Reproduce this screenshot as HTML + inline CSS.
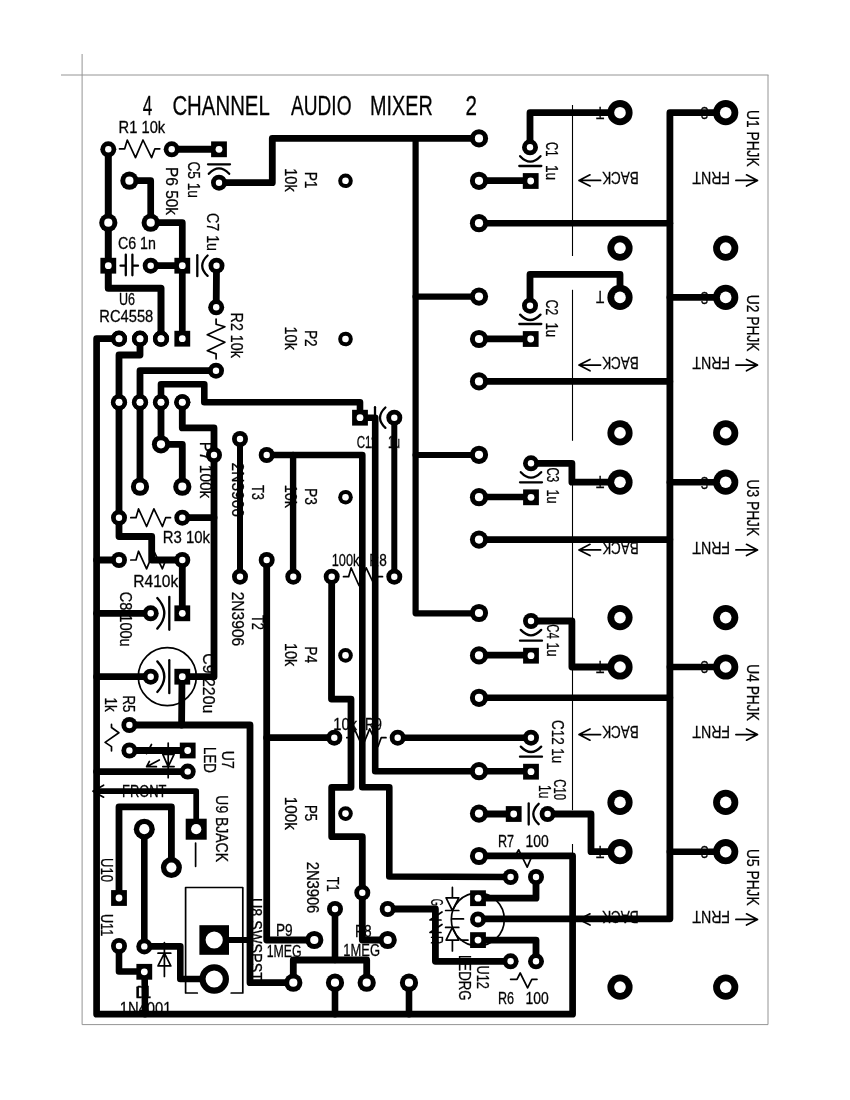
<!DOCTYPE html>
<html lang="en"><head><meta charset="utf-8"><title>4 Channel Audio Mixer 2</title>
<style>html,body{margin:0;padding:0;background:#fff}svg{display:block}text{font-family:"Liberation Sans",sans-serif;fill:#000;stroke:#000;stroke-width:0.3px}.tr{fill:none;stroke:#000;stroke-linejoin:round;stroke-linecap:round}.sk{fill:none;stroke:#000;stroke-width:1.7;stroke-linecap:round;stroke-linejoin:round}.sk2{fill:none;stroke:#000;stroke-width:2.3;stroke-linecap:round;stroke-linejoin:round}.th{fill:none;stroke:#000;stroke-width:1.1}.fr{fill:none;stroke:#949494;stroke-width:1}</style></head><body>
<svg width="850" height="1100" viewBox="0 0 850 1100">
<rect width="850" height="1100" fill="#fff"/>
<g class="fr"><path d="M82.1 54V1024.6H768V75M61 75H768.5"/></g>
<g opacity="0.996"><text x="142.7" y="114.5" font-size="27" textLength="9.5" lengthAdjust="spacingAndGlyphs">4</text><text x="172.4" y="114.5" font-size="27" textLength="97.4" lengthAdjust="spacingAndGlyphs">CHANNEL</text><text x="291" y="114.5" font-size="27" textLength="60.5" lengthAdjust="spacingAndGlyphs">AUDIO</text><text x="370" y="114.5" font-size="27" textLength="62.8" lengthAdjust="spacingAndGlyphs">MIXER</text><text x="465.5" y="114.5" font-size="27" textLength="11.5" lengthAdjust="spacingAndGlyphs">2</text><text x="118.6" y="132.7" font-size="17.3" textLength="46.6" lengthAdjust="spacingAndGlyphs">R1 10k</text><text x="117.9" y="248.8" font-size="17.3" textLength="38" lengthAdjust="spacingAndGlyphs">C6 1n</text><text x="119" y="305.3" font-size="17.3" textLength="16" lengthAdjust="spacingAndGlyphs">U6</text><text x="99.3" y="322" font-size="17.3" textLength="54" lengthAdjust="spacingAndGlyphs">RC4558</text><text x="162.7" y="543.3" font-size="17.3" textLength="47.3" lengthAdjust="spacingAndGlyphs">R3 10k</text><text x="133.3" y="586.7" font-size="17.3" textLength="45" lengthAdjust="spacingAndGlyphs">R410k</text><text x="331.7" y="566" font-size="17.3" textLength="27.8" lengthAdjust="spacingAndGlyphs">100k</text><text x="369.3" y="566" font-size="17.3" textLength="17.4" lengthAdjust="spacingAndGlyphs">R8</text><text x="333.3" y="730" font-size="17.3" textLength="23.7" lengthAdjust="spacingAndGlyphs">10k</text><text x="365" y="730" font-size="17.3" textLength="17" lengthAdjust="spacingAndGlyphs">R9</text><text x="122" y="796.6" font-size="17.3" textLength="44.5" lengthAdjust="spacingAndGlyphs">FRONT</text><text x="276" y="936.3" font-size="17.3" textLength="16.7" lengthAdjust="spacingAndGlyphs">P9</text><text x="266.7" y="957.3" font-size="17.3" textLength="35" lengthAdjust="spacingAndGlyphs">1MEG</text><text x="355" y="937.3" font-size="17.3" textLength="16.7" lengthAdjust="spacingAndGlyphs">P8</text><text x="343.3" y="955.7" font-size="17.3" textLength="36.7" lengthAdjust="spacingAndGlyphs">1MEG</text><text x="497.9" y="846.5" font-size="17.3" textLength="16.1" lengthAdjust="spacingAndGlyphs">R7</text><text x="525.5" y="846.5" font-size="17.3" textLength="23.2" lengthAdjust="spacingAndGlyphs">100</text><text x="497.9" y="1003.9" font-size="17.3" textLength="16.1" lengthAdjust="spacingAndGlyphs">R6</text><text x="525.5" y="1003.9" font-size="17.3" textLength="23.2" lengthAdjust="spacingAndGlyphs">100</text><text x="137" y="997.6" font-size="17.3" textLength="14" lengthAdjust="spacingAndGlyphs">D1</text><text x="119.7" y="1013.5" font-size="17.3" textLength="51.9" lengthAdjust="spacingAndGlyphs">1N4001</text><text x="356.7" y="448.3" font-size="17.3" textLength="20.3" lengthAdjust="spacingAndGlyphs">C11</text><text x="388" y="448.3" font-size="17.3" textLength="12" lengthAdjust="spacingAndGlyphs">1u</text><text transform="translate(166 167) rotate(90)" font-size="17.3" textLength="48" lengthAdjust="spacingAndGlyphs">P6 50k</text><text transform="translate(188.3 161.4) rotate(90)" font-size="17.3" textLength="36.6" lengthAdjust="spacingAndGlyphs">C5 1u</text><text transform="translate(207 213) rotate(90)" font-size="17.3" textLength="38" lengthAdjust="spacingAndGlyphs">C7 1u</text><text transform="translate(231.2 312.6) rotate(90)" font-size="17.3" textLength="45.2" lengthAdjust="spacingAndGlyphs">R2 10k</text><text transform="translate(305.3 171.7) rotate(90)" font-size="17.3" textLength="16.8" lengthAdjust="spacingAndGlyphs">P1</text><text transform="translate(285.3 168.3) rotate(90)" font-size="17.3" textLength="23.4" lengthAdjust="spacingAndGlyphs">10k</text><text transform="translate(305.3 329.9) rotate(90)" font-size="17.3" textLength="16.8" lengthAdjust="spacingAndGlyphs">P2</text><text transform="translate(285.3 326.5) rotate(90)" font-size="17.3" textLength="23.4" lengthAdjust="spacingAndGlyphs">10k</text><text transform="translate(305.3 488.1) rotate(90)" font-size="17.3" textLength="16.8" lengthAdjust="spacingAndGlyphs">P3</text><text transform="translate(285.3 484.7) rotate(90)" font-size="17.3" textLength="23.4" lengthAdjust="spacingAndGlyphs">10k</text><text transform="translate(305.3 646.3) rotate(90)" font-size="17.3" textLength="16.8" lengthAdjust="spacingAndGlyphs">P4</text><text transform="translate(285.3 642.9) rotate(90)" font-size="17.3" textLength="23.4" lengthAdjust="spacingAndGlyphs">10k</text><text transform="translate(305.3 805) rotate(90)" font-size="17.3" textLength="16" lengthAdjust="spacingAndGlyphs">P5</text><text transform="translate(285.3 796.7) rotate(90)" font-size="17.3" textLength="33.3" lengthAdjust="spacingAndGlyphs">100k</text><text transform="translate(200.3 441.7) rotate(90)" font-size="17.3" textLength="56.6" lengthAdjust="spacingAndGlyphs">P7 100k</text><text transform="translate(232 462.5) rotate(90)" font-size="17.3" textLength="54.5" lengthAdjust="spacingAndGlyphs">2N3906</text><text transform="translate(252 485) rotate(90)" font-size="17.3" textLength="15" lengthAdjust="spacingAndGlyphs">T3</text><text transform="translate(232 591.7) rotate(90)" font-size="17.3" textLength="54.5" lengthAdjust="spacingAndGlyphs">2N3906</text><text transform="translate(252 615) rotate(90)" font-size="17.3" textLength="15" lengthAdjust="spacingAndGlyphs">T2</text><text transform="translate(307 861.7) rotate(90)" font-size="17.3" textLength="51.6" lengthAdjust="spacingAndGlyphs">2N3906</text><text transform="translate(327 876.7) rotate(90)" font-size="17.3" textLength="15" lengthAdjust="spacingAndGlyphs">T1</text><text transform="translate(120.3 591.7) rotate(90)" font-size="17.3" textLength="55" lengthAdjust="spacingAndGlyphs">C8 100u</text><text transform="translate(202.8 653.3) rotate(90)" font-size="17.3" textLength="60" lengthAdjust="spacingAndGlyphs">C9 220u</text><text transform="translate(122.9 695.5) rotate(90)" font-size="17.3" textLength="16.8" lengthAdjust="spacingAndGlyphs">R5</text><text transform="translate(104.9 697.5) rotate(90)" font-size="17.3" textLength="14.1" lengthAdjust="spacingAndGlyphs">1k</text><text transform="translate(222 750.8) rotate(90)" font-size="17.3" textLength="18" lengthAdjust="spacingAndGlyphs">U7</text><text transform="translate(203.8 747) rotate(90)" font-size="17.3" textLength="26" lengthAdjust="spacingAndGlyphs">LED</text><text transform="translate(215.6 795.3) rotate(90)" font-size="17.3" textLength="66.7" lengthAdjust="spacingAndGlyphs">U9 BJACK</text><text transform="translate(100.8 858) rotate(90)" font-size="17.3" textLength="24.2" lengthAdjust="spacingAndGlyphs">U10</text><text transform="translate(100.8 914) rotate(90)" font-size="17.3" textLength="22.2" lengthAdjust="spacingAndGlyphs">U11</text><text transform="translate(249.5 898) rotate(90)" font-size="17.3" textLength="83" lengthAdjust="spacingAndGlyphs">U8 SWSPST</text><text transform="translate(477 965.6) rotate(90)" font-size="17.3" textLength="23.3" lengthAdjust="spacingAndGlyphs">U12</text><text transform="translate(430.5 898.7) rotate(90)" font-size="17.3" textLength="7.1" lengthAdjust="spacingAndGlyphs">G</text><text transform="translate(430.5 936) rotate(90)" font-size="17.3" textLength="8" lengthAdjust="spacingAndGlyphs">R</text><text transform="translate(459 955) rotate(90)" font-size="17.3" textLength="45.5" lengthAdjust="spacingAndGlyphs">LEDRG</text><text transform="translate(546 142) rotate(90)" font-size="17.3" textLength="14.4" lengthAdjust="spacingAndGlyphs">C1</text><text transform="translate(546 165) rotate(90)" font-size="17.3" textLength="15.2" lengthAdjust="spacingAndGlyphs">1u</text><text transform="translate(546.2 299.8) rotate(90)" font-size="17.3" textLength="15.5" lengthAdjust="spacingAndGlyphs">C2</text><text transform="translate(546.2 322.4) rotate(90)" font-size="17.3" textLength="14.8" lengthAdjust="spacingAndGlyphs">1u</text><text transform="translate(546.5 467.5) rotate(90)" font-size="17.3" textLength="14.7" lengthAdjust="spacingAndGlyphs">C3</text><text transform="translate(546.5 489.4) rotate(90)" font-size="17.3" textLength="14.2" lengthAdjust="spacingAndGlyphs">1u</text><text transform="translate(546.5 624.3) rotate(90)" font-size="17.3" textLength="14.3" lengthAdjust="spacingAndGlyphs">C4</text><text transform="translate(546.5 642.4) rotate(90)" font-size="17.3" textLength="14.1" lengthAdjust="spacingAndGlyphs">1u</text><text transform="translate(552 720) rotate(90)" font-size="17.3" textLength="43.3" lengthAdjust="spacingAndGlyphs">C12 1u</text><text transform="translate(554.3 779.3) rotate(90)" font-size="17.3" textLength="20.7" lengthAdjust="spacingAndGlyphs">C10</text><text transform="translate(538.5 785) rotate(90)" font-size="17.3" textLength="13.3" lengthAdjust="spacingAndGlyphs">1u</text><text transform="translate(747 110) rotate(90)" font-size="17.3" textLength="56.7" lengthAdjust="spacingAndGlyphs">U1 PHJK</text><text transform="translate(604.2 106.5) rotate(180)" font-size="16.5" textLength="8.2" lengthAdjust="spacingAndGlyphs">T</text><text transform="translate(708.5 107) rotate(180)" font-size="16.5" textLength="8" lengthAdjust="spacingAndGlyphs">S</text><text transform="translate(638.8 172) rotate(180)" font-size="17.3" textLength="36.6" lengthAdjust="spacingAndGlyphs">BACK</text><text transform="translate(730 172) rotate(180)" font-size="17.3" textLength="37.6" lengthAdjust="spacingAndGlyphs">FRNT</text><text transform="translate(747 294.8) rotate(90)" font-size="17.3" textLength="56.7" lengthAdjust="spacingAndGlyphs">U2 PHJK</text><text transform="translate(604.2 291.2) rotate(180)" font-size="16.5" textLength="8.2" lengthAdjust="spacingAndGlyphs">T</text><text transform="translate(708.5 291.8) rotate(180)" font-size="16.5" textLength="8" lengthAdjust="spacingAndGlyphs">S</text><text transform="translate(638.8 356.8) rotate(180)" font-size="17.3" textLength="36.6" lengthAdjust="spacingAndGlyphs">BACK</text><text transform="translate(730 356.8) rotate(180)" font-size="17.3" textLength="37.6" lengthAdjust="spacingAndGlyphs">FRNT</text><text transform="translate(747 479.5) rotate(90)" font-size="17.3" textLength="56.7" lengthAdjust="spacingAndGlyphs">U3 PHJK</text><text transform="translate(604.2 476) rotate(180)" font-size="16.5" textLength="8.2" lengthAdjust="spacingAndGlyphs">T</text><text transform="translate(708.5 476.5) rotate(180)" font-size="16.5" textLength="8" lengthAdjust="spacingAndGlyphs">S</text><text transform="translate(638.8 541.5) rotate(180)" font-size="17.3" textLength="36.6" lengthAdjust="spacingAndGlyphs">BACK</text><text transform="translate(730 541.5) rotate(180)" font-size="17.3" textLength="37.6" lengthAdjust="spacingAndGlyphs">FRNT</text><text transform="translate(747 664.2) rotate(90)" font-size="17.3" textLength="56.7" lengthAdjust="spacingAndGlyphs">U4 PHJK</text><text transform="translate(604.2 660.8) rotate(180)" font-size="16.5" textLength="8.2" lengthAdjust="spacingAndGlyphs">T</text><text transform="translate(708.5 661.2) rotate(180)" font-size="16.5" textLength="8" lengthAdjust="spacingAndGlyphs">S</text><text transform="translate(638.8 726.2) rotate(180)" font-size="17.3" textLength="36.6" lengthAdjust="spacingAndGlyphs">BACK</text><text transform="translate(730 726.2) rotate(180)" font-size="17.3" textLength="37.6" lengthAdjust="spacingAndGlyphs">FRNT</text><text transform="translate(747 849) rotate(90)" font-size="17.3" textLength="56.7" lengthAdjust="spacingAndGlyphs">U5 PHJK</text><text transform="translate(604.2 845.5) rotate(180)" font-size="16.5" textLength="8.2" lengthAdjust="spacingAndGlyphs">T</text><text transform="translate(708.5 846) rotate(180)" font-size="16.5" textLength="8" lengthAdjust="spacingAndGlyphs">S</text><text transform="translate(638.8 911) rotate(180)" font-size="17.3" textLength="36.6" lengthAdjust="spacingAndGlyphs">BACK</text><text transform="translate(730 911) rotate(180)" font-size="17.3" textLength="37.6" lengthAdjust="spacingAndGlyphs">FRNT</text></g>
<g><path class="sk" d="M600.6 180.4 H579 M590 174.8 L579 180.4 L590 186"/><path class="sk" d="M735.9 180.4 H757.5 M746.5 174.8 L757.5 180.4 L746.5 186"/><path class="sk" d="M600.6 365.1 H579 M590 359.5 L579 365.1 L590 370.8"/><path class="sk" d="M735.9 365.1 H757.5 M746.5 359.5 L757.5 365.1 L746.5 370.8"/><path class="sk" d="M600.6 549.9 H579 M590 544.3 L579 549.9 L590 555.5"/><path class="sk" d="M735.9 549.9 H757.5 M746.5 544.3 L757.5 549.9 L746.5 555.5"/><path class="sk" d="M600.6 734.6 H579 M590 729 L579 734.6 L590 740.2"/><path class="sk" d="M735.9 734.6 H757.5 M746.5 729 L757.5 734.6 L746.5 740.2"/><path class="sk" d="M600.6 919.4 H579 M590 913.8 L579 919.4 L590 925"/><path class="sk" d="M735.9 919.4 H757.5 M746.5 913.8 L757.5 919.4 L746.5 925"/><path class="th" d="M572.5 105 V256"/><path class="th" d="M572.5 289.8 V440.8"/><path class="th" d="M572.5 474.5 V625.5"/><path class="th" d="M572.5 659.2 V810.2"/><path class="th" d="M572.5 844 V995"/><path class="sk" d="M119.5 148.8 L124.7 148.8 L127.3 140 L135.5 157.6 L143 140 L151.6 157.6 L154.9 148.8 L159.8 148.8"/><path class="sk" d="M130.8 517.7 L136 517.7 L138.5 508.9 L146.6 526.5 L153.9 508.9 L162.4 526.5 L165.7 517.7 L170.5 517.7"/><path class="sk" d="M130.8 560 L136 560 L138.5 551.2 L146.6 568.8 L153.9 551.2 L162.4 568.8 L165.7 560 L170.5 560"/><path class="sk" d="M343.5 576.7 L348.6 576.7 L351.1 567.9 L359 585.5 L366.2 567.9 L374.6 585.5 L377.7 576.7 L382.5 576.7"/><path class="sk" d="M346.8 737.7 L351.9 737.7 L354.4 728.9 L362.4 746.5 L369.7 728.9 L378 746.5 L381.2 737.7 L386 737.7"/><path class="sk" d="M216.1 319 L216.1 324.2 L224.9 326.7 L207.3 334.8 L224.9 342.2 L207.3 350.7 L216.1 353.9 L216.1 358.8"/><path class="sk" d="M111.5 724.4 V727.5 L118.9 732.8 L105.1 742.4 L111.5 746.6 V750.8"/><path class="sk" d="M510.6 979.3 H517 L520.2 973 L527.6 987.8 L531.8 979.3 H537"/><path class="sk" d="M514.5 857 L518.7 849.8 L527.2 867.2 L532 856"/><path class="sk2" d="M208 164.3 H230"/><path class="sk2" d="M208.8 173.8 Q219 163 229.2 173.8"/><path class="sk2" d="M519.3 166 H541.3"/><path class="sk2" d="M520.1 156.2 Q530.3 167 540.5 156.2"/><path class="sk2" d="M519.3 324 H541.3"/><path class="sk2" d="M520.1 314.6 Q530.3 325.4 540.5 314.6"/><path class="sk2" d="M520 482.3 H542"/><path class="sk2" d="M520.8 472.2 Q531 483 541.2 472.2"/><path class="sk2" d="M520 640.7 H542"/><path class="sk2" d="M520.8 629.9 Q531 640.7 541.2 629.9"/><path class="sk2" d="M520 756.7 H542"/><path class="sk2" d="M520.8 746.6 Q531 757.4 541.2 746.6"/><path class="sk2" d="M197.3 255.2 V276.2"/><path class="sk2" d="M207.6 255.5 Q196.8 265.7 207.6 275.9"/><path class="sk2" d="M528.7 803.5 V824.5"/><path class="sk2" d="M538.7 803.8 Q527.9 814 538.7 824.2"/><path class="sk2" d="M375 407.2 V428.2"/><path class="sk2" d="M385.4 407.5 Q374.6 417.7 385.4 427.9"/><path class="sk2" d="M169.3 596.8 V629.8"/><path class="sk2" d="M157.3 598 Q171.3 613.3 157.3 628.6"/><path class="sk2" d="M169.3 660.2 V693.2"/><path class="sk2" d="M157.3 661.4 Q171.3 676.7 157.3 692"/><circle class="sk" cx="167.3" cy="676.7" r="29"/><path class="sk2" d="M120.5 265.7 H125.8 M132.4 265.7 H138 M125.8 254.6 V275.3 M132.4 254.6 V275.3"/><path class="sk" d="M168.2 743 V777.7 M162.8 754.4 H174.1 L168.2 766.6 Z M162.8 766.6 H174.1"/><path class="sk" d="M151.5 744.5 L146.6 753.7 M159.3 760 L146.6 766.7 H156.4 M146.6 766.7 L149.4 761.4"/><path class="sk" d="M93 791.2 L103.6 785.2 M93 791.2 L103.6 797.2"/><path class="sk" d="M195.6 843 V866.3"/><path class="sk" d="M197.3 993 H185.6 V887.5 H242.8 V993 H231.2"/><path class="sk" d="M164.4 942.6 V976.5 M158 953.2 H170.8 M164.4 953.2 L158 965.9 H170.8 Z"/><path class="sk" d="M137.2 987.2 V997.4"/><circle class="sk" cx="477.8" cy="919.4" r="26.5"/><path class="sk" d="M461 940.1 H468"/><path class="sk" d="M452.4 887.4 V897.8 M446.1 897.8 H458.8 L452.4 910.5 Z M445.6 910.5 H458.8 M452.6 918.9 H463.5 M445.6 927.4 H458.8"/><path class="sk" d="M452.4 951 V940.1 M446.1 940.1 H458.8 L452.4 927.4 Z"/><path class="sk" d="M442 912 L430 920 L441 920 M442 924.5 L430 932.5 L441 932.5"/></g>
<g class="tr"><path d="M108.3 149.3 L108.3 288.3 L161 288.3 L161 338.7" stroke-width="7"/><path d="M171.7 149.3 L219 149.3" stroke-width="7"/><path d="M219 182.7 L272.3 182.7 L272.3 138.4 L479 138.4" stroke-width="6.8"/><path d="M415.6 138.4 L415.6 613.3 L479 613.3" stroke-width="6.2"/><path d="M415.6 296.7 L479 296.7" stroke-width="6.2"/><path d="M415.6 455 L479 455" stroke-width="6.2"/><path d="M129.4 180.7 L150.7 180.7 L150.7 222.7 L182.3 222.7 L182.3 338.7" stroke-width="6.7"/><path d="M150.7 265.7 L182.3 265.7" stroke-width="6.7"/><path d="M216.5 265.7 L216.2 307.3" stroke-width="6.8"/><path d="M119 338.7 L96.6 338.7 L96.6 1014.2 L572.6 1014.2 L572.6 855.8 L479 855.8" stroke-width="6.7"/><path d="M140 338.7 L140 355 L119 355 L119 536.5 L151.7 536.5 L151.7 560 L182.3 560 L182.3 613.3" stroke-width="6.8"/><path d="M216 370.7 L140 370.7 L140 486.7" stroke-width="6.8"/><path d="M161 402.3 L161 384.2 L204.3 384.2 L204.3 402.3 L360 402.3 L360 417.7 L375.2 417.7 L375.2 771.3 L531 771.3" stroke-width="6.6"/><path d="M161 402.3 L161 444.3 L182.3 444.3 L182.3 486.7" stroke-width="6.8"/><path d="M182.3 402.3 L182.3 427.9 L214 427.9 L214 676.7 L182 676.7 L181.6 725" stroke-width="6.8"/><path d="M182.3 517.7 L214 517.7" stroke-width="6.8"/><path d="M96.6 560 L119 560" stroke-width="6.8"/><path d="M96.6 613.3 L150.7 613.3" stroke-width="6.8"/><path d="M96.6 676.7 L150.7 676.7" stroke-width="6.8"/><path d="M129.4 725 L250 725 L250 982.7 L293.3 982.7 L293.3 960 L366.7 960 L366.7 982.7" stroke-width="6.8"/><path d="M129.4 750.5 L187.7 750.5" stroke-width="6.8"/><path d="M96.6 771.6 L187.7 771.6" stroke-width="6.8"/><path d="M96.6 791.2 L196.2 791.2 L196.2 829.2" stroke-width="5.7"/><path d="M119 898 L119 806.8 L171.4 806.8 L171.4 867.6" stroke-width="6.8"/><path d="M144.3 829.2 L144.3 946.4 L180.3 946.4 L180.3 979 L214.2 979" stroke-width="6.6"/><path d="M119 946 L119 971.5 L144.6 971.5 L145 1014.2" stroke-width="6.6"/><path d="M214.2 940 L250 940" stroke-width="5.8"/><path d="M266.7 560 L266.7 940 L314.3 940" stroke-width="6.8"/><path d="M266.7 737.7 L334.3 737.7" stroke-width="6.8"/><path d="M240 439 L240 576.7" stroke-width="6"/><path d="M266.7 455 L362.3 455 L362.3 787.3 L389.3 787.3 L389.3 876.5 L510.6 877" stroke-width="6.6"/><path d="M293.1 455 L293.1 576.7" stroke-width="6.4"/><path d="M331.7 576.7 L331.5 699.1 L351 699.1 L351 787.3 L331.7 787.3 L331.7 836.7 L362.3 836.7 L362.3 940 L387.7 940" stroke-width="6.8"/><path d="M394.3 417.7 L394.3 576.7" stroke-width="6"/><path d="M397.7 737.7 L531 737.7" stroke-width="6.6"/><path d="M479 180.6 L531 180.6" stroke-width="6.7"/><path d="M479 223.2 L669.9 223.2" stroke-width="6.6"/><path d="M479 338.8 L531 338.8" stroke-width="6.7"/><path d="M479 381.4 L669.9 381.4" stroke-width="6.6"/><path d="M479 497 L531 497" stroke-width="6.7"/><path d="M479 539.6 L669.9 539.6" stroke-width="6.6"/><path d="M479 655.2 L531 655.2" stroke-width="6.7"/><path d="M479 697.8 L669.9 697.8" stroke-width="6.6"/><path d="M479 814 L513.7 814" stroke-width="7.2"/><path d="M530 147.3 L530 112.7 L620 112.7" stroke-width="6.8"/><path d="M530 305.7 L530 274.4 L620 274.4 L620 297.4" stroke-width="6.8"/><path d="M531 463.3 L571.9 463.3 L571.9 482.2 L620 482.2" stroke-width="6.8"/><path d="M531 621 L571.9 621 L571.9 667 L620 667" stroke-width="6.8"/><path d="M547.6 814 L591 814 L591 851.7 L620 851.7" stroke-width="6.8"/><path d="M725.7 112.7 L669.9 112.7 L669.9 918.8 L478 918.8" stroke-width="6.8"/><path d="M669.9 297.4 L725.7 297.4" stroke-width="6.6"/><path d="M669.9 482.2 L725.7 482.2" stroke-width="6.6"/><path d="M669.9 667 L725.7 667" stroke-width="6.6"/><path d="M669.9 851.7 L725.7 851.7" stroke-width="6.6"/><path d="M335 909 L335 960" stroke-width="6.6"/><path d="M335 982.7 L335 1014.2" stroke-width="6.6"/><path d="M409 982.7 L409 1014.2" stroke-width="6.6"/><path d="M387.7 909 L435.4 909 L435.4 961.3 L510.6 961.3" stroke-width="6.8"/><path d="M536 877 L536 898.2 L478 898.2" stroke-width="6.8"/><path d="M478 940.1 L536 940.1 L536 961.3" stroke-width="6.8"/></g>
<g fill="#000"><rect x="211.1" y="141.4" width="15.8" height="15.8"/><rect x="100.4" y="257.8" width="15.8" height="15.8"/><rect x="174.4" y="257.8" width="15.8" height="15.8"/><rect x="174.4" y="330.8" width="15.8" height="15.8"/><rect x="352.1" y="409.8" width="15.8" height="15.8"/><rect x="174.4" y="605.4" width="15.8" height="15.8"/><rect x="174.4" y="668.8" width="15.8" height="15.8"/><rect x="179.8" y="742.6" width="15.8" height="15.8"/><rect x="522.8" y="173.1" width="15.8" height="15.8"/><rect x="522.8" y="331.1" width="15.8" height="15.8"/><rect x="523.1" y="489.4" width="15.8" height="15.8"/><rect x="523.1" y="647.8" width="15.8" height="15.8"/><rect x="523.1" y="763.8" width="15.8" height="15.8"/><rect x="505.8" y="806.1" width="15.8" height="15.8"/><rect x="470.1" y="890.3" width="15.8" height="15.8"/><rect x="470.1" y="932.2" width="15.8" height="15.8"/><rect x="111.1" y="890.1" width="15.8" height="15.8"/><rect x="136.4" y="963.9" width="15.8" height="15.8"/><rect x="185.7" y="818.7" width="21" height="21"/><rect x="199.4" y="925.2" width="29.6" height="29.6"/><circle cx="108.3" cy="149.3" r="8"/><circle cx="171.7" cy="149.3" r="8"/><circle cx="219" cy="182.7" r="8"/><circle cx="150.7" cy="265.7" r="8"/><circle cx="216.5" cy="265.7" r="8"/><circle cx="216.2" cy="307.3" r="8"/><circle cx="216" cy="370.7" r="8"/><circle cx="119" cy="338.7" r="8"/><circle cx="140" cy="338.7" r="8"/><circle cx="161" cy="338.7" r="8"/><circle cx="119" cy="402.3" r="8"/><circle cx="140" cy="402.3" r="8"/><circle cx="161" cy="402.3" r="8"/><circle cx="182.3" cy="402.3" r="8"/><circle cx="214" cy="455" r="8"/><circle cx="240" cy="439" r="8"/><circle cx="240" cy="576.7" r="8"/><circle cx="266.7" cy="455" r="8"/><circle cx="266.7" cy="560" r="8"/><circle cx="293.3" cy="576.7" r="8"/><circle cx="331.7" cy="576.7" r="8"/><circle cx="394.3" cy="576.7" r="8"/><circle cx="119" cy="517.7" r="8"/><circle cx="182.3" cy="517.7" r="8"/><circle cx="119" cy="560" r="8"/><circle cx="182.3" cy="560" r="8"/><circle cx="150.7" cy="613.3" r="8"/><circle cx="150.7" cy="676.7" r="8"/><circle cx="129.4" cy="725" r="8"/><circle cx="129.4" cy="750.5" r="8"/><circle cx="187.7" cy="771.6" r="8"/><circle cx="394.3" cy="417.7" r="8"/><circle cx="530" cy="147.3" r="8"/><circle cx="530" cy="305.7" r="8"/><circle cx="531" cy="463.3" r="8"/><circle cx="531" cy="621" r="8"/><circle cx="547.6" cy="814" r="8"/><circle cx="531" cy="737.7" r="8"/><circle cx="334.3" cy="737.7" r="8"/><circle cx="397.7" cy="737.7" r="8"/><circle cx="335" cy="909" r="8"/><circle cx="362.3" cy="892.7" r="8"/><circle cx="387.7" cy="909" r="8"/><circle cx="119" cy="946" r="8"/><circle cx="144.3" cy="946.4" r="8"/><circle cx="510.6" cy="877" r="8"/><circle cx="536" cy="877" r="8"/><circle cx="510.6" cy="961.3" r="8"/><circle cx="536" cy="961.3" r="8"/><circle cx="478" cy="919.4" r="8"/><circle cx="119" cy="338.7" r="8.1"/><circle cx="140" cy="338.7" r="8.1"/><circle cx="161" cy="338.7" r="8.1"/><circle cx="119" cy="402.3" r="8.1"/><circle cx="140" cy="402.3" r="8.1"/><circle cx="161" cy="402.3" r="8.1"/><circle cx="182.3" cy="402.3" r="8.1"/><circle cx="129.4" cy="180.7" r="9.1"/><circle cx="150.7" cy="222.7" r="9.1"/><circle cx="108.3" cy="222.7" r="9.1"/><circle cx="140" cy="486.7" r="9.1"/><circle cx="182.3" cy="486.7" r="9.1"/><circle cx="161" cy="444.3" r="9.1"/><circle cx="293.3" cy="982.7" r="9.1"/><circle cx="335" cy="982.7" r="9.1"/><circle cx="366.7" cy="982.7" r="9.1"/><circle cx="409" cy="982.7" r="9.1"/><circle cx="314.3" cy="940" r="9.1"/><circle cx="387.7" cy="940" r="9.1"/><circle cx="479" cy="138.4" r="9.1"/><circle cx="479" cy="180.8" r="9.1"/><circle cx="479" cy="223.2" r="9.1"/><circle cx="345.5" cy="180.8" r="7.3"/><circle cx="479" cy="296.6" r="9.1"/><circle cx="479" cy="339" r="9.1"/><circle cx="479" cy="381.4" r="9.1"/><circle cx="345.5" cy="339" r="7.3"/><circle cx="479" cy="454.8" r="9.1"/><circle cx="479" cy="497.2" r="9.1"/><circle cx="479" cy="539.6" r="9.1"/><circle cx="345.5" cy="497.2" r="7.3"/><circle cx="479" cy="613" r="9.1"/><circle cx="479" cy="655.4" r="9.1"/><circle cx="479" cy="697.8" r="9.1"/><circle cx="345.5" cy="655.4" r="7.3"/><circle cx="479" cy="771.2" r="9.1"/><circle cx="479" cy="813.6" r="9.1"/><circle cx="479" cy="856" r="9.1"/><circle cx="345.5" cy="813.6" r="7.3"/><circle cx="620" cy="112.7" r="12.6"/><circle cx="620" cy="248.1" r="12.6"/><circle cx="725.7" cy="112.7" r="12.6"/><circle cx="725.7" cy="248.1" r="12.6"/><circle cx="620" cy="297.4" r="12.6"/><circle cx="620" cy="432.9" r="12.6"/><circle cx="725.7" cy="297.4" r="12.6"/><circle cx="725.7" cy="432.9" r="12.6"/><circle cx="620" cy="482.2" r="12.6"/><circle cx="620" cy="617.6" r="12.6"/><circle cx="725.7" cy="482.2" r="12.6"/><circle cx="725.7" cy="617.6" r="12.6"/><circle cx="620" cy="667" r="12.6"/><circle cx="620" cy="802.4" r="12.6"/><circle cx="725.7" cy="667" r="12.6"/><circle cx="725.7" cy="802.4" r="12.6"/><circle cx="620" cy="851.7" r="12.6"/><circle cx="620" cy="987.1" r="12.6"/><circle cx="725.7" cy="851.7" r="12.6"/><circle cx="725.7" cy="987.1" r="12.6"/><circle cx="144.3" cy="829.2" r="10.5"/><circle cx="171.4" cy="867.6" r="10.5"/><circle cx="214.2" cy="979" r="14.8"/></g>
<g fill="#fff"><circle cx="219" cy="149.3" r="3.4"/><circle cx="108.3" cy="265.7" r="3.4"/><circle cx="182.3" cy="265.7" r="3.4"/><circle cx="182.3" cy="338.7" r="3.4"/><circle cx="360" cy="417.7" r="3.4"/><circle cx="182.3" cy="613.3" r="3.4"/><circle cx="182.3" cy="676.7" r="3.4"/><circle cx="187.7" cy="750.5" r="3.4"/><circle cx="530.7" cy="181" r="3.4"/><circle cx="530.7" cy="339" r="3.4"/><circle cx="531" cy="497.3" r="3.4"/><circle cx="531" cy="655.7" r="3.4"/><circle cx="531" cy="771.7" r="3.4"/><circle cx="513.7" cy="814" r="3.4"/><circle cx="478" cy="898.2" r="3.4"/><circle cx="478" cy="940.1" r="3.4"/><circle cx="119" cy="898" r="3.4"/><circle cx="144.3" cy="971.8" r="3.4"/><circle cx="196.2" cy="829.2" r="5.1"/><circle cx="214.2" cy="940" r="8.6"/><circle cx="108.3" cy="149.3" r="3.2"/><circle cx="171.7" cy="149.3" r="3.2"/><circle cx="219" cy="182.7" r="3.2"/><circle cx="150.7" cy="265.7" r="3.2"/><circle cx="216.5" cy="265.7" r="3.2"/><circle cx="216.2" cy="307.3" r="3.2"/><circle cx="216" cy="370.7" r="3.2"/><circle cx="119" cy="338.7" r="3.2"/><circle cx="140" cy="338.7" r="3.2"/><circle cx="161" cy="338.7" r="3.2"/><circle cx="119" cy="402.3" r="3.2"/><circle cx="140" cy="402.3" r="3.2"/><circle cx="161" cy="402.3" r="3.2"/><circle cx="182.3" cy="402.3" r="3.2"/><circle cx="214" cy="455" r="3.2"/><circle cx="240" cy="439" r="3.2"/><circle cx="240" cy="576.7" r="3.2"/><circle cx="266.7" cy="455" r="3.2"/><circle cx="266.7" cy="560" r="3.2"/><circle cx="293.3" cy="576.7" r="3.2"/><circle cx="331.7" cy="576.7" r="3.2"/><circle cx="394.3" cy="576.7" r="3.2"/><circle cx="119" cy="517.7" r="3.2"/><circle cx="182.3" cy="517.7" r="3.2"/><circle cx="119" cy="560" r="3.2"/><circle cx="182.3" cy="560" r="3.2"/><circle cx="150.7" cy="613.3" r="3.2"/><circle cx="150.7" cy="676.7" r="3.2"/><circle cx="129.4" cy="725" r="3.2"/><circle cx="129.4" cy="750.5" r="3.2"/><circle cx="187.7" cy="771.6" r="3.2"/><circle cx="394.3" cy="417.7" r="3.2"/><circle cx="530" cy="147.3" r="3.2"/><circle cx="530" cy="305.7" r="3.2"/><circle cx="531" cy="463.3" r="3.2"/><circle cx="531" cy="621" r="3.2"/><circle cx="547.6" cy="814" r="3.2"/><circle cx="531" cy="737.7" r="3.2"/><circle cx="334.3" cy="737.7" r="3.2"/><circle cx="397.7" cy="737.7" r="3.2"/><circle cx="335" cy="909" r="3.2"/><circle cx="362.3" cy="892.7" r="3.2"/><circle cx="387.7" cy="909" r="3.2"/><circle cx="119" cy="946" r="3.2"/><circle cx="144.3" cy="946.4" r="3.2"/><circle cx="510.6" cy="877" r="3.2"/><circle cx="536" cy="877" r="3.2"/><circle cx="510.6" cy="961.3" r="3.2"/><circle cx="536" cy="961.3" r="3.2"/><circle cx="478" cy="919.4" r="3.2"/><circle cx="119" cy="338.7" r="3.5"/><circle cx="140" cy="338.7" r="3.5"/><circle cx="161" cy="338.7" r="3.5"/><circle cx="119" cy="402.3" r="3.5"/><circle cx="140" cy="402.3" r="3.5"/><circle cx="161" cy="402.3" r="3.5"/><circle cx="182.3" cy="402.3" r="3.5"/><circle cx="129.4" cy="180.7" r="4.1"/><circle cx="150.7" cy="222.7" r="4.1"/><circle cx="108.3" cy="222.7" r="4.1"/><circle cx="140" cy="486.7" r="4.1"/><circle cx="182.3" cy="486.7" r="4.1"/><circle cx="161" cy="444.3" r="4.1"/><circle cx="293.3" cy="982.7" r="4.1"/><circle cx="335" cy="982.7" r="4.1"/><circle cx="366.7" cy="982.7" r="4.1"/><circle cx="409" cy="982.7" r="4.1"/><circle cx="314.3" cy="940" r="4.1"/><circle cx="387.7" cy="940" r="4.1"/><circle cx="479" cy="138.4" r="4.1"/><circle cx="479" cy="180.8" r="4.1"/><circle cx="479" cy="223.2" r="4.1"/><circle cx="345.5" cy="180.8" r="3.3"/><circle cx="479" cy="296.6" r="4.1"/><circle cx="479" cy="339" r="4.1"/><circle cx="479" cy="381.4" r="4.1"/><circle cx="345.5" cy="339" r="3.3"/><circle cx="479" cy="454.8" r="4.1"/><circle cx="479" cy="497.2" r="4.1"/><circle cx="479" cy="539.6" r="4.1"/><circle cx="345.5" cy="497.2" r="3.3"/><circle cx="479" cy="613" r="4.1"/><circle cx="479" cy="655.4" r="4.1"/><circle cx="479" cy="697.8" r="4.1"/><circle cx="345.5" cy="655.4" r="3.3"/><circle cx="479" cy="771.2" r="4.1"/><circle cx="479" cy="813.6" r="4.1"/><circle cx="479" cy="856" r="4.1"/><circle cx="345.5" cy="813.6" r="3.3"/><circle cx="620" cy="112.7" r="5.8"/><circle cx="620" cy="248.1" r="5.8"/><circle cx="725.7" cy="112.7" r="5.8"/><circle cx="725.7" cy="248.1" r="5.8"/><circle cx="620" cy="297.4" r="5.8"/><circle cx="620" cy="432.9" r="5.8"/><circle cx="725.7" cy="297.4" r="5.8"/><circle cx="725.7" cy="432.9" r="5.8"/><circle cx="620" cy="482.2" r="5.8"/><circle cx="620" cy="617.6" r="5.8"/><circle cx="725.7" cy="482.2" r="5.8"/><circle cx="725.7" cy="617.6" r="5.8"/><circle cx="620" cy="667" r="5.8"/><circle cx="620" cy="802.4" r="5.8"/><circle cx="725.7" cy="667" r="5.8"/><circle cx="725.7" cy="802.4" r="5.8"/><circle cx="620" cy="851.7" r="5.8"/><circle cx="620" cy="987.1" r="5.8"/><circle cx="725.7" cy="851.7" r="5.8"/><circle cx="725.7" cy="987.1" r="5.8"/><circle cx="144.3" cy="829.2" r="5.1"/><circle cx="171.4" cy="867.6" r="5.1"/><circle cx="214.2" cy="979" r="8.6"/></g>
</svg></body></html>
